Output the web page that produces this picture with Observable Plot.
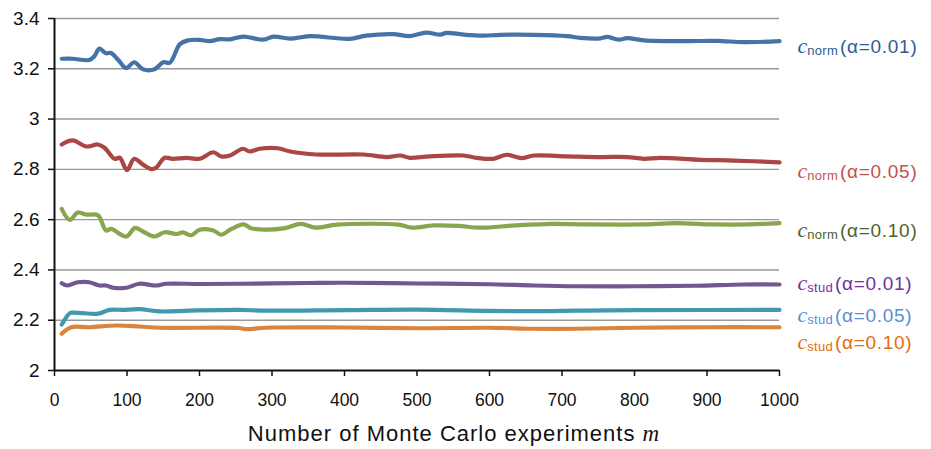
<!DOCTYPE html>
<html>
<head>
<meta charset="utf-8">
<script src="https://cdn.jsdelivr.net/npm/d3@7"></script>
<script src="https://cdn.jsdelivr.net/npm/@observablehq/plot@0.6"></script>
<style>
  html, body { margin: 0; padding: 0; background: #fff; }
  svg { display: block; }
</style>
</head>
<body>
<div id="chart"></div>
<script>
// ---- data (m, value) ----
const cNorm01 = [[10,3.24],[25,3.24],[48,3.235],[55,3.25],[62,3.28],[71,3.262],[78,3.263],[88,3.235],[99,3.203],[110,3.226],[122,3.198],[138,3.198],[150,3.226],[159,3.224],[173,3.298],[184,3.313],[200,3.315],[214,3.31],[228,3.318],[242,3.317],[260,3.328],[288,3.316],[302,3.328],[325,3.32],[352,3.33],[407,3.319],[430,3.332],[467,3.338],[490,3.33],[513,3.344],[532,3.336],[541,3.343],[564,3.336],[592,3.332],[615,3.335],[661,3.335],[707,3.33],[725,3.323],[753,3.321],[762,3.327],[778,3.316],[790,3.322],[813,3.313],[868,3.31],[914,3.311],[951,3.306],[1000,3.31]];
const cNorm05 = [[10,2.899],[25,2.915],[44,2.891],[60,2.899],[69,2.886],[83,2.842],[90,2.846],[100,2.797],[110,2.842],[122,2.819],[134,2.801],[140,2.806],[152,2.846],[163,2.842],[182,2.846],[200,2.842],[219,2.868],[230,2.851],[242,2.855],[260,2.882],[269,2.871],[283,2.882],[308,2.884],[325,2.871],[361,2.859],[426,2.859],[458,2.849],[477,2.855],[490,2.846],[518,2.852],[564,2.855],[582,2.846],[605,2.842],[624,2.858],[644,2.845],[661,2.855],[707,2.852],[753,2.849],[790,2.849],[813,2.842],[836,2.846],[891,2.838],[937,2.835],[1000,2.828]];
const cNorm10 = [[10,2.643],[21,2.599],[32,2.628],[44,2.62],[60,2.617],[71,2.557],[78,2.563],[99,2.533],[111,2.567],[122,2.553],[138,2.533],[152,2.55],[168,2.543],[177,2.549],[189,2.538],[200,2.56],[219,2.557],[230,2.54],[244,2.563],[261,2.581],[271,2.566],[291,2.56],[318,2.566],[340,2.583],[360,2.568],[390,2.58],[474,2.58],[493,2.568],[523,2.577],[557,2.575],[587,2.568],[636,2.577],[686,2.583],[735,2.581],[809,2.581],[858,2.586],[908,2.581],[957,2.581],[1000,2.586]];
const cStud01 = [[10,2.347],[18,2.338],[32,2.351],[48,2.351],[62,2.338],[71,2.338],[81,2.329],[99,2.329],[117,2.345],[140,2.338],[154,2.345],[200,2.344],[255,2.345],[350,2.348],[400,2.349],[500,2.346],[600,2.343],[661,2.338],[720,2.335],[800,2.335],[883,2.337],[950,2.342],[1000,2.342]];
const cStud05 = [[10,2.183],[21,2.228],[25,2.23],[39,2.228],[60,2.226],[76,2.241],[94,2.241],[117,2.244],[145,2.235],[186,2.238],[255,2.241],[290,2.238],[400,2.24],[500,2.242],[600,2.237],[661,2.236],[720,2.238],[800,2.24],[1000,2.241]];
const cStud10 = [[10,2.146],[23,2.172],[48,2.172],[85,2.179],[117,2.175],[145,2.17],[255,2.169],[262,2.165],[300,2.171],[400,2.171],[500,2.168],[600,2.17],[661,2.166],[720,2.166],[800,2.17],[900,2.172],[1000,2.172]];

const seriesLabels = ["c_norm(α=0.01)","c_norm(α=0.05)","c_norm(α=0.10)","c_stud(α=0.01)","c_stud(α=0.05)","c_stud(α=0.10)"];
const labelY = [3.286, 2.789, 2.557, 2.346, 2.219, 2.109];
const lineColors = ["#4572A7","#AA4643","#89A54E","#71588F","#4198AF","#DB843D"];
const labelColors = ["#2F5B95","#C8504C","#4F6228","#7030A0","#558ED5","#E46C0A"];
const xTicks = [0,100,200,300,400,500,600,700,800,900,1000];
const yTicks = [2,2.2,2.4,2.6,2.8,3,3.2,3.4];
const xTitle = "Number of Monte Carlo experiments m";

const allSeries = [cNorm01, cNorm05, cNorm10, cStud01, cStud05, cStud10];
const labelRows = seriesLabels.map((t, i) => ({t, y: labelY[i], color: labelColors[i]}));

const lineMarks = allSeries.map((s, i) => Plot.line(s, {
  x: d => d[0], y: d => d[1], stroke: lineColors[i], strokeWidth: 4.2,
  curve: "catmull-rom", strokeLinecap: "round", strokeLinejoin: "round"
}));

const chart = Plot.plot({
  width: 931, height: 449,
  marginLeft: 54, marginRight: 152, marginTop: 18, marginBottom: 79,
  style: {fontFamily: "'Liberation Sans', Arial, Helvetica, sans-serif", background: "white", color: "#111"},
  x: {domain: [0, 1000]},
  y: {domain: [2, 3.4]},
  marks: [
    Plot.gridY(yTicks.filter(d => d > 2), {stroke: "#999", strokeOpacity: 1, strokeWidth: 1.4}),
    ...lineMarks,
    Plot.ruleX([0], {stroke: "#111", strokeWidth: 2}),
    Plot.ruleY([2], {stroke: "#111", strokeWidth: 2}),
    Plot.axisY(yTicks, {tickSize: 6, tickPadding: 9, fontSize: 19, label: null, tickFormat: d => String(+d.toFixed(1)), stroke: "#111", strokeWidth: 1.5}),
    Plot.axisX(xTicks, {tickSize: 6, tickPadding: 17, fontSize: 17.5, label: null, tickFormat: d => String(d), stroke: "#111", strokeWidth: 1.5}),
    Plot.text([xTitle], {frameAnchor: "bottom", dx: 37, dy: 63, fontSize: 22, textAnchor: "middle", lineAnchor: "middle", fill: "#111"}),
    Plot.text(labelRows, {x: () => 1000, y: "y", text: "t", fill: "color", dx: 18, textAnchor: "start", lineAnchor: "middle", fontSize: 19})
  ]
});

document.getElementById("chart").appendChild(chart);

const serif = "'Liberation Serif', 'Times New Roman', serif";
d3.select(chart).selectAll("text").each(function() {
  const el = d3.select(this);
  const txt = el.text();
  if (txt === xTitle) {
    el.text(null).attr("letter-spacing", 1);
    el.append("tspan").text(txt.slice(0, -1));
    el.append("tspan").attr("font-family", serif).attr("font-style", "italic").attr("font-size", 23).text("m");
    return;
  }
  const m = txt.match(/^c_(\w+)(.*)$/);
  if (!m) return;
  el.text(null);
  el.append("tspan").attr("font-family", serif).attr("font-style", "italic").attr("font-size", 22).text("c");
  el.append("tspan").attr("font-size", 13).attr("dy", 2).attr("letter-spacing", 0.3).text(m[1]);
  el.append("tspan").attr("dy", -2).attr("dx", 2).attr("letter-spacing", 0.7).text(m[2]);
});
</script>
</body>
</html>
